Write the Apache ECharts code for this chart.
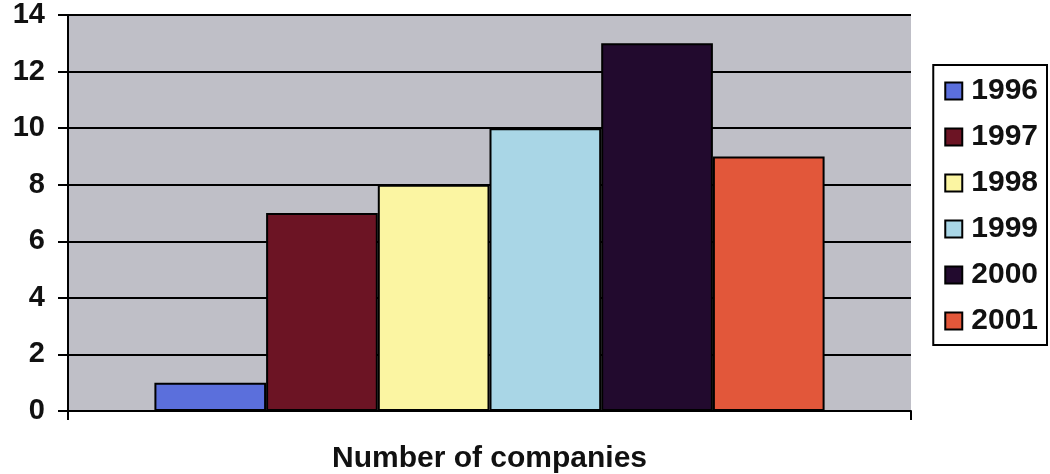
<!DOCTYPE html>
<html>
<head>
<meta charset="utf-8">
<script src="https://cdn.jsdelivr.net/npm/echarts@6/dist/echarts.min.js"></script>
<style>
  html, body { margin: 0; padding: 0; background: #ffffff; }
  #chart { width: 1050px; height: 474px; }
</style>
</head>
<body>
<div id="chart"></div>
<script>
// Companies per year, one bar per year inside a single category
const categories = ['Number of companies'];
const years = ['1996', '1997', '1998', '1999', '2000', '2001'];
const companies = [1, 7, 8, 10, 13, 9];
const yearColors = ['#5b6fdc', '#6c1424', '#fbf5a2', '#a9d6e6', '#220a2e', '#e2573a'];
const yTicks = { min: 0, max: 14, interval: 2 };

const FONT = '"Liberation Sans", Arial, sans-serif';

const series = years.map((y, i) => ({
  name: y,
  type: 'bar',
  data: [companies[i]],
  barGap: '0%',
  barCategoryGap: '20.5%',
  itemStyle: { color: yearColors[i], borderColor: '#000', borderWidth: 2 }
}));

const chart = echarts.init(document.getElementById('chart'), null, { renderer: 'canvas' });
chart.setOption({
  animation: false,
  backgroundColor: '#ffffff',
  grid: {
    left: 68, right: 139, top: 15, bottom: 63,
    outerBoundsMode: 'none',
    containLabel: false,
    show: true, backgroundColor: '#bfbfc7', borderWidth: 0
  },
  legend: {
    orient: 'vertical',
    right: 3, top: 65,
    data: years,
    icon: 'rect',
    itemWidth: 17, itemHeight: 17,
    itemGap: 16,
    padding: [11, 9, 9, 11],
    borderColor: '#000', borderWidth: 2,
    backgroundColor: '#fff',
    textStyle: { fontFamily: FONT, fontWeight: 'bold', fontSize: 30, color: '#111', lineHeight: 30, padding: [0, 0, 0, 4] }
  },
  xAxis: {
    type: 'category',
    data: categories,
    name: 'Number of companies',
    nameLocation: 'middle',
    nameGap: 33,
    nameTextStyle: { fontFamily: FONT, fontWeight: 'bold', fontSize: 30, color: '#111' },
    axisLine: { lineStyle: { color: '#000', width: 2 } },
    axisTick: { show: true, length: 9, lineStyle: { color: '#000', width: 2 } },
    axisLabel: { show: false }
  },
  yAxis: {
    type: 'value',
    min: yTicks.min, max: yTicks.max, interval: yTicks.interval,
    axisLine: { show: true, lineStyle: { color: '#000', width: 2 } },
    axisTick: { show: true, length: 10, lineStyle: { color: '#000', width: 2 } },
    axisLabel: { fontFamily: FONT, fontWeight: 'bold', fontSize: 29, color: '#111', margin: 23 },
    splitLine: { show: true, lineStyle: { color: '#000', width: 2 } }
  },
  series: series
});
</script>
</body>
</html>
